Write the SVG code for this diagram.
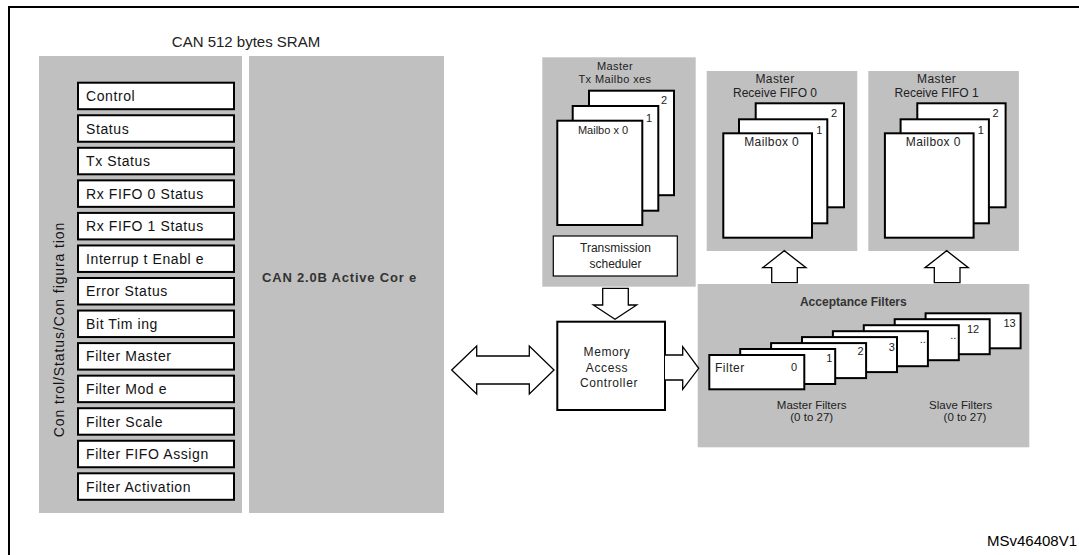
<svg xmlns="http://www.w3.org/2000/svg" width="1079" height="555" viewBox="0 0 1079 555">
<style>
text{font-family:"Liberation Sans",Arial,sans-serif;fill:#222}
.panel{fill:#c0c0c0}
.reg{fill:#fff;stroke:#000;stroke-width:2}
.regt{font-size:14px;letter-spacing:0.6px;fill:#111}
.box{fill:#fff;stroke:#000;stroke-width:2}
.thin{fill:#fff;stroke:#000;stroke-width:1.2}
.arrow{fill:#fff;stroke:#000;stroke-width:1.3;stroke-linejoin:miter}
.lbl{font-size:12px;text-anchor:middle}
.num{font-size:11px;text-anchor:middle}
.bold{font-weight:bold;fill:#333}
</style>
<rect width="1079" height="555" fill="#fff"/>
<rect x="9" y="7" width="1100" height="600" fill="none" stroke="#000" stroke-width="2"/>

<g id="sram-title"><text x="246" y="47" font-size="15" text-anchor="middle">CAN 512 bytes SRAM</text></g>

<g id="registers">
<rect class="panel" x="39" y="56" width="203" height="457"/>
<text class="regt" transform="translate(64,329.5) rotate(-90)" text-anchor="middle" style="letter-spacing:0.9px">Con trol/Status/Con figura tion</text>
<rect class="reg" x="78" y="82.7" width="156" height="26.5"/><text class="regt" x="86" y="101">Control</text>
<rect class="reg" x="78" y="115.25" width="156" height="26.5"/><text class="regt" x="86" y="133.55">Status</text>
<rect class="reg" x="78" y="147.8" width="156" height="26.5"/><text class="regt" x="86" y="166.1">Tx Status</text>
<rect class="reg" x="78" y="180.35" width="156" height="26.5"/><text class="regt" x="86" y="198.65">Rx FIFO 0 Status</text>
<rect class="reg" x="78" y="212.9" width="156" height="26.5"/><text class="regt" x="86" y="231.2">Rx FIFO 1 Status</text>
<rect class="reg" x="78" y="245.45" width="156" height="26.5"/><text class="regt" x="86" y="263.75">Interrup t Enabl e</text>
<rect class="reg" x="78" y="278" width="156" height="26.5"/><text class="regt" x="86" y="296.3">Error Status</text>
<rect class="reg" x="78" y="310.55" width="156" height="26.5"/><text class="regt" x="86" y="328.85">Bit Tim ing</text>
<rect class="reg" x="78" y="343.1" width="156" height="26.5"/><text class="regt" x="86" y="361.4">Filter Master</text>
<rect class="reg" x="78" y="375.65" width="156" height="26.5"/><text class="regt" x="86" y="393.95">Filter Mod e</text>
<rect class="reg" x="78" y="408.2" width="156" height="26.5"/><text class="regt" x="86" y="426.5">Filter Scale</text>
<rect class="reg" x="78" y="440.75" width="156" height="26.5"/><text class="regt" x="86" y="459.05">Filter FIFO Assign</text>
<rect class="reg" x="78" y="473.3" width="156" height="26.5"/><text class="regt" x="86" y="491.6">Filter Activation</text>
</g>

<g id="core">
<rect class="panel" x="249" y="56" width="195" height="457"/>
<text x="262" y="282" font-size="13" class="bold" style="letter-spacing:0.8px">CAN 2.0B Active Cor e</text>
</g>

<g id="tx-mailboxes">
<rect class="panel" x="542.3" y="57.3" width="153.4" height="229.4"/>
<text x="615" y="70" font-size="11" text-anchor="middle" style="letter-spacing:0.4px">Master</text>
<text x="615" y="83" font-size="11" text-anchor="middle" style="letter-spacing:0.4px">Tx Mailbo xes</text>
<rect class="box" x="589" y="90.7" width="85" height="104.5"/>
<text class="num" x="664" y="104.3">2</text>
<rect class="box" x="572.7" y="106" width="85.6" height="104.7"/>
<text class="num" x="649" y="121.7">1</text>
<rect class="box" x="557.3" y="120.7" width="85" height="104.3"/>
<text x="603" y="134" font-size="11" text-anchor="middle">Mailbo x 0</text>
<rect class="thin" x="553.3" y="236" width="124" height="40"/>
<text class="lbl" x="615.5" y="252.3">Transmission</text>
<text class="lbl" x="615.5" y="267.7">scheduler</text>
</g>

<g id="rx-fifo0">
<rect class="panel" x="706.7" y="71" width="150.6" height="180"/>
<text class="lbl" x="775" y="83.3" style="letter-spacing:0.4px">Master</text>
<text class="lbl" x="775" y="96.7">Receive FIFO 0</text>
<rect class="box" x="755.7" y="103.3" width="88.3" height="104"/>
<text class="num" x="834" y="116.7">2</text>
<rect class="box" x="739" y="119.3" width="88.3" height="104"/>
<text class="num" x="819.3" y="134">1</text>
<rect class="box" x="723.3" y="133.3" width="88.7" height="104.4"/>
<text class="lbl" x="771.7" y="146" style="letter-spacing:0.4px">Mailbox 0</text>
</g>

<g id="rx-fifo1">
<rect class="panel" x="868.3" y="71" width="150.6" height="180"/>
<text class="lbl" x="936.6" y="83.3" style="letter-spacing:0.4px">Master</text>
<text class="lbl" x="936.6" y="96.7">Receive FIFO 1</text>
<rect class="box" x="917.3" y="103.3" width="88.3" height="104"/>
<text class="num" x="995.6" y="116.7">2</text>
<rect class="box" x="900.6" y="119.3" width="88.3" height="104"/>
<text class="num" x="980.9" y="134">1</text>
<rect class="box" x="884.9" y="133.3" width="88.7" height="104.4"/>
<text class="lbl" x="933.3" y="146" style="letter-spacing:0.4px">Mailbox 0</text>
</g>

<g id="acceptance-filters">
<rect class="panel" x="697.7" y="284" width="331.6" height="163.3"/>
<text x="853.3" y="306" font-size="12" text-anchor="middle" class="bold">Acceptance Filters</text>
<rect class="box" x="925.6" y="313.3" width="95" height="35"/><text class="num" x="1009.5" y="326.7">13</text>
<rect class="box" x="894.7" y="319.2" width="95" height="35"/><text class="num" x="973" y="333.3">12</text>
<rect class="box" x="863.8" y="325.2" width="95" height="35"/><text class="num" x="953.3" y="339">..</text>
<rect class="box" x="832.9" y="331.2" width="95" height="35"/><text class="num" x="922.7" y="343.3">..</text>
<rect class="box" x="802" y="337.1" width="95" height="35"/><text class="num" x="891.7" y="350.7">3</text>
<rect class="box" x="771.1" y="343.1" width="95" height="35"/><text class="num" x="860.5" y="355">2</text>
<rect class="box" x="740.2" y="349" width="95" height="35"/><text class="num" x="829.2" y="362.3">1</text>
<rect class="box" x="709.3" y="355" width="95" height="34.3"/>
<text x="715" y="372.3" font-size="12" style="letter-spacing:0.5px">Filter</text>
<text class="num" x="794" y="370.7">0</text>
<text x="811.7" y="409.3" font-size="11.5" text-anchor="middle">Master Filters</text>
<text x="811.7" y="421" font-size="11.5" text-anchor="middle">(0 to 27)</text>
<text x="960.7" y="409.3" font-size="11.5" text-anchor="middle">Slave Filters</text>
<text x="965" y="421" font-size="11.5" text-anchor="middle">(0 to 27)</text>
</g>

<g id="memory-access-controller">
<rect class="box" x="557.3" y="321.7" width="107.7" height="88.3"/>
<text class="lbl" x="607" y="356" style="letter-spacing:0.6px">Memory</text>
<text class="lbl" x="607" y="371.7" style="letter-spacing:0.6px">Access</text>
<text class="lbl" x="609" y="387" style="letter-spacing:0.6px">Controller</text>
</g>

<g id="connectors">
<path class="arrow" d="M451.7,370 L476.7,346 L476.7,356 L529.3,356 L529.3,346 L554,370 L529.3,394 L529.3,384 L476.7,384 L476.7,394 Z"/>
<path class="arrow" d="M602.7,288.3 L628.3,288.3 L628.3,305 L636.7,305 L615,319.3 L593.3,305 L602.7,305 Z"/>
<path class="arrow" d="M665,355 L682.7,355 L682.7,346.7 L698.7,368.3 L682.7,389.3 L682.7,380 L665,380"/>
<path class="arrow" d="M771.7,282.7 L771.7,267.7 L762.7,267.7 L784.3,250.7 L806,267.7 L797.3,267.7 L797.3,282.7 Z"/>
<path class="arrow" d="M934.3,282.7 L934.3,267.7 L925,267.7 L946.7,250.7 L968.3,267.7 L960,267.7 L960,282.7 Z"/>
</g>

<g id="ref-code"><text x="987" y="545.7" font-size="15" style="fill:#000">MSv46408V1</text></g>
</svg>
